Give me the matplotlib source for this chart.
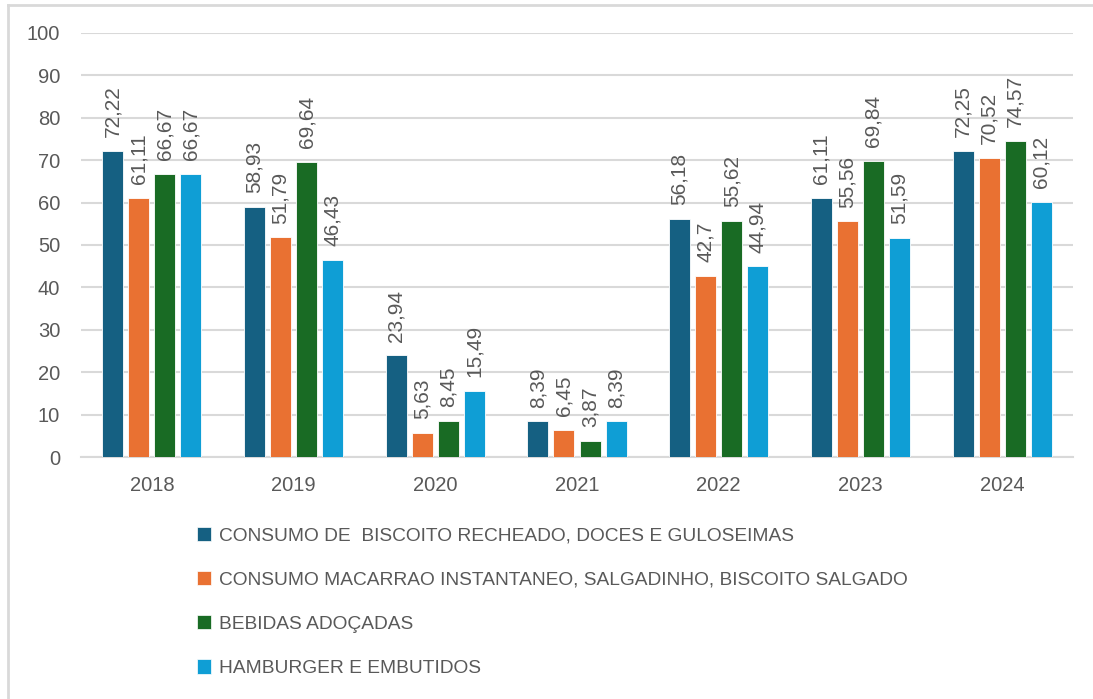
import matplotlib
matplotlib.use("Agg")
import matplotlib.pyplot as plt
import numpy as np
from matplotlib.patches import Patch
from matplotlib.lines import Line2D

plt.rcParams["font.family"] = ["Liberation Sans", "DejaVu Sans"]

years = ["2018", "2019", "2020", "2021", "2022", "2023", "2024"]
series_names = [
    "CONSUMO DE  BISCOITO RECHEADO, DOCES E GULOSEIMAS",
    "CONSUMO MACARRAO INSTANTANEO, SALGADINHO, BISCOITO SALGADO",
    "BEBIDAS ADOÇADAS",
    "HAMBURGER E EMBUTIDOS",
]
biscoito = [72.22, 58.93, 23.94, 8.39, 56.18, 61.11, 72.25]
macarrao = [61.11, 51.79, 5.63, 6.45, 42.7, 55.56, 70.52]
bebidas = [66.67, 69.64, 8.45, 3.87, 55.62, 69.84, 74.57]
hamburger = [66.67, 46.43, 15.49, 8.39, 44.94, 51.59, 60.12]
colors = ["#156082", "#E97132", "#196B24", "#0F9ED5"]

TEXT = "#595959"
GRID = "#D9D9D9"

fig = plt.figure(figsize=(10.93, 6.99), dpi=100)
ax = fig.add_axes([0.0741, 0.3462, 0.9076, 0.6066])

x = np.arange(len(years))
step = 0.184
width = 0.148
all_series = [biscoito, macarrao, bebidas, hamburger]
for i, (vals, col) in enumerate(zip(all_series, colors)):
    pos = x + (i - 1.5) * step
    bars = ax.bar(pos, vals, width=width, color=col, edgecolor="white",
                  linewidth=0.6, zorder=3)
    for b, v in zip(bars, vals):
        lbl = f"{v:g}".replace(".", ",")
        ax.annotate(lbl, (b.get_x() + b.get_width() / 2, b.get_height()),
                    xytext=(0, 10), textcoords="offset points",
                    rotation=90, ha="center", va="bottom",
                    fontsize=15, color=TEXT, zorder=4)

ax.set_xlim(-0.5, len(years) - 0.5)
ax.set_ylim(0, 100)
ax.set_yticks(range(0, 101, 10))
ax.set_xticks(x)
ax.set_xticklabels(years)
ax.yaxis.grid(True, color=GRID, linewidth=1.5, zorder=0)
ax.set_axisbelow(True)
for s in ax.spines.values():
    s.set_visible(False)
ax.spines["bottom"].set_visible(True)
ax.spines["bottom"].set_color(GRID)
ax.spines["bottom"].set_linewidth(1.5)
ax.tick_params(axis="both", length=0, labelsize=14.5, colors=TEXT)
ax.tick_params(axis="y", pad=15)
ax.tick_params(axis="x", pad=14)

handles = [Patch(facecolor=c, edgecolor="white", linewidth=0.5) for c in colors]
fig.legend(handles, series_names, loc="upper left",
           bbox_to_anchor=(197 / 1093, 1 - 527 / 699), frameon=False,
           fontsize=13.8, labelcolor=TEXT, handlelength=0.75, handleheight=0.75,
           handletextpad=0.4, labelspacing=1.38, borderpad=0, borderaxespad=0)

# thin frame at the left and top edge of the screenshot
fig.add_artist(Line2D([8 / 1093, 8 / 1093], [0, 1 - 5 / 699], transform=fig.transFigure,
                      color="#D9D9D9", linewidth=2))
fig.add_artist(Line2D([8 / 1093, 1], [1 - 5 / 699, 1 - 5 / 699], transform=fig.transFigure,
                      color="#D9D9D9", linewidth=2))

fig.savefig("out.png", dpi=100)
